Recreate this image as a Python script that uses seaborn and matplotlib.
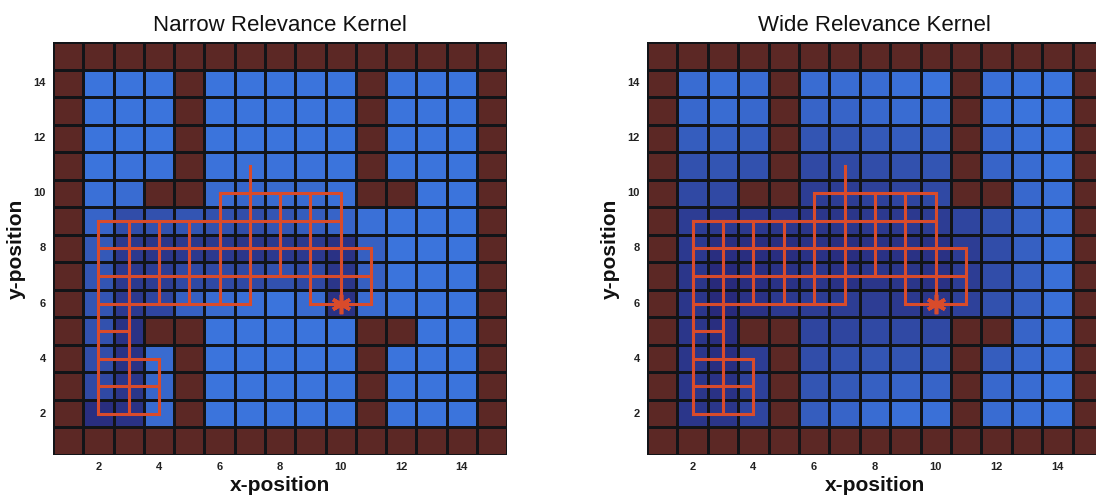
import numpy as np
import pandas as pd
import seaborn as sns
import matplotlib
matplotlib.use("Agg")
import matplotlib.pyplot as plt
from matplotlib.colors import LinearSegmentedColormap, ListedColormap

sns.set_theme(style="white")
plt.rcParams['font.family'] = ['Liberation Sans', 'DejaVu Sans']

# ---------------- data ----------------
x_positions = list(range(1, 16))          # grid columns (x = 1..15)
y_positions = list(range(15, 0, -1))      # grid rows, top to bottom (y = 15..1)
tick_values = [2, 4, 6, 8, 10, 12, 14]

# maze map, rows from y=15 (top) to y=1 (bottom); '#' = wall
maze = [
    "###############",
    "#...#.....#...#",
    "#...#.....#...#",
    "#...#.....#...#",
    "#...#.....#...#",
    "#..##.....##..#",
    "#.............#",
    "#.............#",
    "#.............#",
    "#.............#",
    "#..##.....##..#",
    "#...#.....#...#",
    "#...#.....#...#",
    "#...#.....#...#",
    "###############",
]

# relevance (0 = light blue, 1 = dark blue), interior x = 2..14, rows y = 14..2
narrow_relevance = [
    [0.00, 0.00, 0.00, 0, 0.00, 0.00, 0.00, 0.00, 0.00, 0, 0.00, 0.00, 0.00],
    [0.00, 0.00, 0.00, 0, 0.00, 0.00, 0.00, 0.00, 0.00, 0, 0.00, 0.00, 0.00],
    [0.00, 0.00, 0.00, 0, 0.00, 0.00, 0.00, 0.00, 0.00, 0, 0.00, 0.00, 0.00],
    [0.00, 0.02, 0.02, 0, 0.02, 0.05, 0.02, 0.02, 0.00, 0, 0.00, 0.00, 0.00],
    [0.05, 0.10, 0, 0, 0.12, 0.18, 0.12, 0.12, 0.05, 0, 0, 0.00, 0.00],
    [0.20, 0.50, 0.45, 0.40, 0.45, 0.50, 0.40, 0.30, 0.20, 0.05, 0.00, 0.00, 0.00],
    [0.35, 0.75, 0.80, 0.75, 0.75, 0.80, 0.75, 0.75, 0.85, 0.25, 0.00, 0.00, 0.00],
    [0.40, 0.75, 0.70, 0.55, 0.55, 0.55, 0.45, 0.55, 0.80, 0.25, 0.00, 0.00, 0.00],
    [0.40, 0.75, 0.60, 0.25, 0.12, 0.06, 0.00, 0.12, 0.85, 0.12, 0.00, 0.00, 0.00],
    [0.45, 0.85, 0, 0, 0.00, 0.00, 0.00, 0.00, 0.00, 0, 0, 0.00, 0.00],
    [0.50, 0.85, 0.12, 0, 0.00, 0.00, 0.00, 0.00, 0.00, 0, 0.00, 0.00, 0.00],
    [0.55, 0.80, 0.18, 0, 0.00, 0.00, 0.00, 0.00, 0.00, 0, 0.00, 0.00, 0.00],
    [0.90, 0.85, 0.12, 0, 0.00, 0.00, 0.00, 0.00, 0.00, 0, 0.00, 0.00, 0.00],
]

wide_relevance = [
    [0.10, 0.05, 0.10, 0, 0.10, 0.10, 0.10, 0.05, 0.00, 0, 0.05, 0.00, 0.00],
    [0.15, 0.10, 0.15, 0, 0.20, 0.20, 0.15, 0.10, 0.10, 0, 0.05, 0.00, 0.00],
    [0.30, 0.25, 0.30, 0, 0.40, 0.40, 0.35, 0.30, 0.25, 0, 0.15, 0.05, 0.00],
    [0.45, 0.40, 0.45, 0, 0.55, 0.55, 0.50, 0.45, 0.40, 0, 0.20, 0.10, 0.00],
    [0.55, 0.55, 0, 0, 0.70, 0.70, 0.65, 0.60, 0.55, 0, 0, 0.15, 0.05],
    [0.70, 0.75, 0.75, 0.80, 0.80, 0.80, 0.75, 0.75, 0.70, 0.60, 0.45, 0.20, 0.05],
    [0.75, 0.90, 0.90, 0.90, 0.85, 0.90, 0.85, 0.85, 0.85, 0.70, 0.50, 0.25, 0.05],
    [0.80, 0.95, 0.90, 0.85, 0.80, 0.85, 0.80, 0.80, 0.85, 0.70, 0.50, 0.25, 0.05],
    [0.80, 0.95, 0.85, 0.75, 0.70, 0.70, 0.70, 0.75, 0.80, 0.65, 0.45, 0.25, 0.05],
    [0.80, 0.90, 0, 0, 0.60, 0.60, 0.55, 0.55, 0.55, 0, 0, 0.20, 0.05],
    [0.80, 0.90, 0.70, 0, 0.50, 0.45, 0.40, 0.40, 0.35, 0, 0.30, 0.15, 0.05],
    [0.80, 0.85, 0.65, 0, 0.40, 0.35, 0.25, 0.20, 0.20, 0, 0.15, 0.10, 0.00],
    [0.80, 0.80, 0.60, 0, 0.30, 0.20, 0.10, 0.05, 0.05, 0, 0.10, 0.05, 0.00],
]

# trajectory segments (grid coordinates)
path_h = [  # (y, x_start, x_end)
    (10, 6, 10), (9, 2, 10), (8, 2, 11), (7, 2, 11),
    (6, 2, 7), (6, 9, 11), (5, 2, 3), (4, 2, 4), (3, 2, 4), (2, 2, 4),
]
path_v = [  # (x, y_start, y_end)
    (2, 9, 2), (3, 9, 2), (4, 9, 6), (4, 4, 2), (5, 9, 6), (6, 10, 6),
    (7, 11, 6), (8, 10, 7), (9, 10, 6), (10, 10, 6), (11, 8, 6),
]
goal = (10, 6)

panel_titles = ["Narrow Relevance Kernel", "Wide Relevance Kernel"]
panel_values = [narrow_relevance, wide_relevance]

# ---------------- styling ----------------
LIGHT = "#3b74dc"
DARK = "#272676"
WALL = "#5c2825"
GRID = "#121418"
RED = "#d94b2b"

blue_cmap = LinearSegmentedColormap.from_list("rel", [LIGHT, DARK])
wall_cmap = ListedColormap([WALL])

wall_mask = np.array([[c == "#" for c in row] for row in maze])


def full_grid(interior):
    g = np.zeros((15, 15))
    g[1:14, 1:14] = np.array(interior, dtype=float)
    return pd.DataFrame(g, index=y_positions, columns=x_positions)


fig = plt.figure(figsize=(10.96, 5.01), dpi=100)
axes_pos = [[0.0484, 0.0918, 0.4145, 0.8244], [0.5903, 0.0918, 0.4160, 0.8244]]

for pos, title, vals in zip(axes_pos, panel_titles, panel_values):
    ax = fig.add_axes(pos)
    df = full_grid(vals)
    walls_df = pd.DataFrame(np.ones((15, 15)), index=y_positions, columns=x_positions)
    sns.heatmap(df, mask=wall_mask, cmap=blue_cmap, vmin=0, vmax=1, cbar=False,
                linewidths=0.8, linecolor=GRID, ax=ax)
    sns.heatmap(walls_df, mask=~wall_mask, cmap=wall_cmap, vmin=0, vmax=1, cbar=False,
                linewidths=0.8, linecolor=GRID, ax=ax)

    # map grid coordinates onto heatmap cell centres
    col = {x: i + 0.5 for i, x in enumerate(x_positions)}
    row = {y: i + 0.5 for i, y in enumerate(y_positions)}

    for (y, x0, x1) in path_h:
        ax.plot([col[x0], col[x1]], [row[y], row[y]], color=RED, lw=2.2,
                solid_capstyle="projecting", zorder=5)
    for (x, y0, y1) in path_v:
        ax.plot([col[x], col[x]], [row[y0], row[y1]], color=RED, lw=2.2,
                solid_capstyle="projecting", zorder=5)
    ax.plot(col[goal[0]], row[goal[1]], marker=(6, 2, 0), ms=14, mew=2.6,
            color=RED, zorder=6)

    ax.set_xticks([col[v] for v in tick_values])
    ax.set_xticklabels([str(v) for v in tick_values], rotation=0)
    ax.set_yticks([row[v] for v in tick_values])
    ax.set_yticklabels([str(v) for v in tick_values], rotation=0)
    ax.tick_params(length=0, labelsize=8, pad=5)
    for lab in ax.get_xticklabels() + ax.get_yticklabels():
        lab.set_fontweight("bold")
        lab.set_color("#222222")

    ax.set_xlabel("x-position", fontsize=15, fontweight="bold", labelpad=3, color="#111111")
    ax.set_ylabel("y-position", fontsize=15, fontweight="bold", labelpad=6, color="#111111")
    ax.set_title(title, fontsize=16, pad=8, color="#111111")

fig.savefig("out.png", dpi=100)
